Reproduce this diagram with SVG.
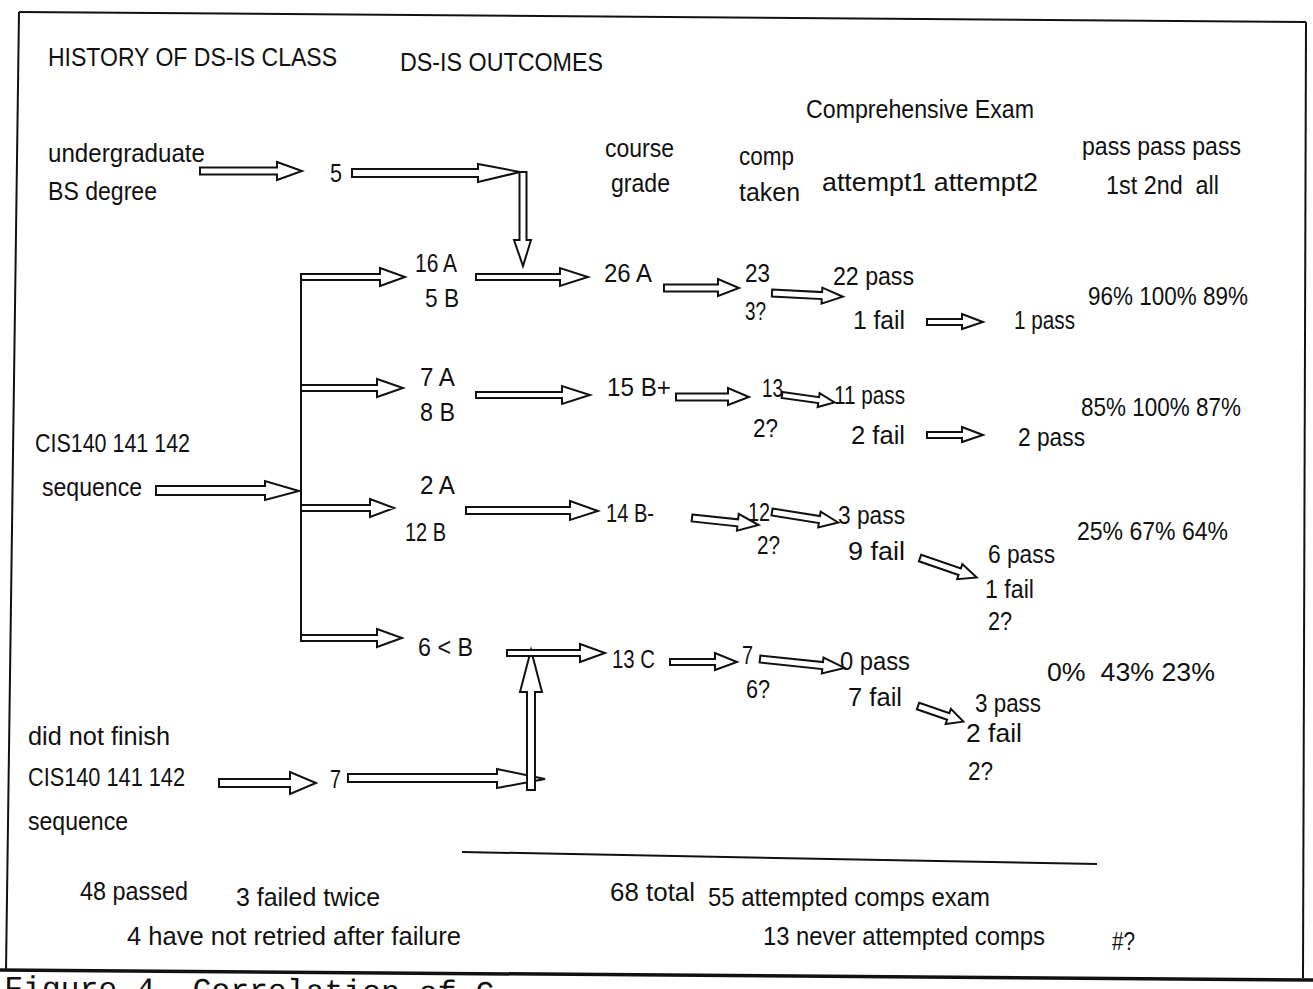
<svg xmlns="http://www.w3.org/2000/svg" width="1313" height="989" viewBox="0 0 1313 989">
<style>
  text { font-family: "Liberation Sans", Arial, sans-serif; font-size: 26px; fill: #111; }
  .arr { fill: #fff; stroke: #111; stroke-width: 2; stroke-linejoin: miter; }
  .ln { stroke: #111; stroke-width: 2; fill: none; }
  .cap { font-family: "Liberation Mono", "Courier New", monospace; font-size: 32px; }
</style>
<rect width="1313" height="989" fill="#fff"/>

<g id="frame">
  <line class="ln" x1="19" y1="12" x2="1306" y2="22"/>
  <line class="ln" x1="19" y1="12" x2="6" y2="971"/>
  <line class="ln" x1="1306" y1="22" x2="1303" y2="978"/>
  <line x1="0" y1="970" x2="1313" y2="980" stroke="#111" stroke-width="3.5"/>
  <line class="ln" x1="462" y1="852" x2="1097" y2="864"/>
</g>

<g id="headers">
  <text x="48" y="66" textLength="289" lengthAdjust="spacingAndGlyphs">HISTORY OF DS-IS CLASS</text>
  <text x="400" y="71" textLength="203" lengthAdjust="spacingAndGlyphs">DS-IS OUTCOMES</text>
  <text x="806" y="118" textLength="228" lengthAdjust="spacingAndGlyphs">Comprehensive Exam</text>
  <text x="605" y="157" textLength="69" lengthAdjust="spacingAndGlyphs">course</text>
  <text x="611" y="192" textLength="59" lengthAdjust="spacingAndGlyphs">grade</text>
  <text x="739" y="165" textLength="55" lengthAdjust="spacingAndGlyphs">comp</text>
  <text x="739" y="201" textLength="61" lengthAdjust="spacingAndGlyphs">taken</text>
  <text x="822" y="191" textLength="216" lengthAdjust="spacingAndGlyphs">attempt1 attempt2</text>
  <text x="1082" y="155" textLength="159" lengthAdjust="spacingAndGlyphs">pass pass pass</text>
  <text x="1106" y="194" textLength="113" lengthAdjust="spacingAndGlyphs" xml:space="preserve">1st 2nd  all</text>
</g>

<g id="sources">
  <g id="n-undergrad">
    <text x="48" y="162" textLength="157" lengthAdjust="spacingAndGlyphs">undergraduate</text>
    <text x="48" y="200" textLength="109" lengthAdjust="spacingAndGlyphs">BS degree</text>
  </g>
  <g id="n-five"><text x="330" y="182" textLength="12" lengthAdjust="spacingAndGlyphs">5</text></g>
  <g id="n-cis">
    <text x="35" y="452" textLength="155" lengthAdjust="spacingAndGlyphs">CIS140 141 142</text>
    <text x="42" y="496" textLength="100" lengthAdjust="spacingAndGlyphs">sequence</text>
  </g>
  <g id="n-dnf">
    <text x="28" y="745" textLength="142" lengthAdjust="spacingAndGlyphs">did not finish</text>
    <text x="28" y="786" textLength="157" lengthAdjust="spacingAndGlyphs">CIS140 141 142</text>
    <text x="28" y="830" textLength="100" lengthAdjust="spacingAndGlyphs">sequence</text>
  </g>
  <g id="n-seven"><text x="330" y="788" textLength="11" lengthAdjust="spacingAndGlyphs">7</text></g>
</g>

<g id="row-a">
  <g id="n-a1"><text x="415" y="272" textLength="42" lengthAdjust="spacingAndGlyphs">16 A</text><text x="425" y="307" textLength="34" lengthAdjust="spacingAndGlyphs">5 B</text></g>
  <g id="n-a2"><text x="604" y="282" textLength="48" lengthAdjust="spacingAndGlyphs">26 A</text></g>
  <g id="n-a3"><text x="745" y="282" textLength="25" lengthAdjust="spacingAndGlyphs">23</text><text x="745" y="320" textLength="21" lengthAdjust="spacingAndGlyphs">3?</text></g>
  <g id="n-a4"><text x="833" y="285" textLength="81" lengthAdjust="spacingAndGlyphs">22 pass</text><text x="853" y="329" textLength="52" lengthAdjust="spacingAndGlyphs">1 fail</text></g>
  <g id="n-a5"><text x="1014" y="329" textLength="61" lengthAdjust="spacingAndGlyphs">1 pass</text></g>
  <g id="n-a6"><text x="1088" y="305" textLength="160" lengthAdjust="spacingAndGlyphs">96% 100% 89%</text></g>
</g>

<g id="row-b">
  <g id="n-b1"><text x="420" y="386" textLength="35" lengthAdjust="spacingAndGlyphs">7 A</text><text x="420" y="421" textLength="35" lengthAdjust="spacingAndGlyphs">8 B</text></g>
  <g id="n-b2"><text x="607" y="396" textLength="64" lengthAdjust="spacingAndGlyphs">15 B+</text></g>
  <g id="n-b3"><text x="762" y="397" textLength="21" lengthAdjust="spacingAndGlyphs">13</text><text x="753" y="437" textLength="25" lengthAdjust="spacingAndGlyphs">2?</text></g>
  <g id="n-b4"><text x="834" y="404" textLength="71" lengthAdjust="spacingAndGlyphs">11 pass</text><text x="851" y="444" textLength="54" lengthAdjust="spacingAndGlyphs">2 fail</text></g>
  <g id="n-b5"><text x="1018" y="446" textLength="67" lengthAdjust="spacingAndGlyphs">2 pass</text></g>
  <g id="n-b6"><text x="1081" y="416" textLength="160" lengthAdjust="spacingAndGlyphs">85% 100% 87%</text></g>
</g>

<g id="row-c">
  <g id="n-c1"><text x="420" y="494" textLength="35" lengthAdjust="spacingAndGlyphs">2 A</text><text x="405" y="541" textLength="41" lengthAdjust="spacingAndGlyphs">12 B</text></g>
  <g id="n-c2"><text x="606" y="522" textLength="48" lengthAdjust="spacingAndGlyphs">14 B-</text></g>
  <g id="n-c3"><text x="748" y="521" textLength="22" lengthAdjust="spacingAndGlyphs">12</text><text x="757" y="554" textLength="23" lengthAdjust="spacingAndGlyphs">2?</text></g>
  <g id="n-c4"><text x="838" y="524" textLength="67" lengthAdjust="spacingAndGlyphs">3 pass</text><text x="848" y="560" textLength="57" lengthAdjust="spacingAndGlyphs">9 fail</text></g>
  <g id="n-c5"><text x="988" y="563" textLength="67" lengthAdjust="spacingAndGlyphs">6 pass</text><text x="985" y="598" textLength="49" lengthAdjust="spacingAndGlyphs">1 fail</text><text x="988" y="630" textLength="24" lengthAdjust="spacingAndGlyphs">2?</text></g>
  <g id="n-c6"><text x="1077" y="540" textLength="151" lengthAdjust="spacingAndGlyphs">25% 67% 64%</text></g>
</g>

<g id="row-d">
  <g id="n-d1"><text x="418" y="656" textLength="55" lengthAdjust="spacingAndGlyphs">6 &lt; B</text></g>
  <g id="n-d2"><text x="612" y="668" textLength="43" lengthAdjust="spacingAndGlyphs">13 C</text></g>
  <g id="n-d3"><text x="742" y="664" textLength="11" lengthAdjust="spacingAndGlyphs">7</text><text x="746" y="698" textLength="24" lengthAdjust="spacingAndGlyphs">6?</text></g>
  <g id="n-d4"><text x="840" y="670" textLength="70" lengthAdjust="spacingAndGlyphs">0 pass</text><text x="848" y="706" textLength="54" lengthAdjust="spacingAndGlyphs">7 fail</text></g>
  <g id="n-d5"><text x="975" y="712" textLength="66" lengthAdjust="spacingAndGlyphs">3 pass</text><text x="966" y="742" textLength="56" lengthAdjust="spacingAndGlyphs">2 fail</text><text x="968" y="780" textLength="25" lengthAdjust="spacingAndGlyphs">2?</text></g>
  <g id="n-d6"><text x="1047" y="681" textLength="168" lengthAdjust="spacingAndGlyphs" xml:space="preserve">0%  43% 23%</text></g>
</g>

<g id="totals">
  <text x="80" y="900" textLength="108" lengthAdjust="spacingAndGlyphs">48 passed</text>
  <text x="236" y="906" textLength="144" lengthAdjust="spacingAndGlyphs">3 failed twice</text>
  <text x="610" y="901" textLength="85" lengthAdjust="spacingAndGlyphs">68 total</text>
  <text x="708" y="906" textLength="282" lengthAdjust="spacingAndGlyphs">55 attempted comps exam</text>
  <text x="127" y="945" textLength="334" lengthAdjust="spacingAndGlyphs">4 have not retried after failure</text>
  <text x="763" y="945" textLength="282" lengthAdjust="spacingAndGlyphs">13 never attempted comps</text>
  <text x="1112" y="950" textLength="23" lengthAdjust="spacingAndGlyphs">#?</text>
</g>

<g id="connectors">
  <!-- sources -->
  <path class="arr" d="M200,167.5 H277 V162 L302,171 L277,180 V174.5 H200 Z"/>
  <path class="arr" d="M352,169 H478 V164 L520,172 L478,182 V177 H352 Z"/>
  <path class="arr" d="M519.5,172 V240 H514 L523,266 L531,240 H526.5 V172 Z"/>
  <line class="ln" x1="301" y1="276" x2="301" y2="636"/>
  <path class="arr" d="M156,486 H265 V481 L299,491 L265,500 V495 H156 Z"/>
  <path class="arr" d="M219,779 H290 V772 L316,783 L290,794 V787 H219 Z"/>
  <path class="arr" d="M348,774 H497 V769 L545,779 L497,788 V782 H348 Z"/>
  <path class="arr" d="M527,790 V692 H520 L531,650 L542,692 H535 V790 Z"/>
  <!-- branch -->
  <path class="arr" d="M301,274 H380 V268 L405,277 L380,286 V280 H301 Z"/>
  <path class="arr" d="M301,385 H377 V379 L403,388 L377,397 V391 H301 Z"/>
  <path class="arr" d="M301,505 H370 V499 L394,508 L370,517 V511 H301 Z"/>
  <path class="arr" d="M301,635 H377 V629 L402,638 L377,647 V641 H301 Z"/>
  <!-- to course grade -->
  <path class="arr" d="M476,274 H560 V268 L588,277 L560,286 V280 H476 Z"/>
  <path class="arr" d="M476,392 H562 V386 L590,395 L562,404 V398 H476 Z"/>
  <path class="arr" d="M466,507 H570 V501 L598,511 L570,520 V514 H466 Z"/>
  <path class="arr" d="M507,650 H580 V644 L605,653 L580,662 V656 H507 Z"/>
  <!-- to comp taken -->
  <path class="arr" d="M664,284.5 H718 V279 L739,288 L718,296 V291.5 H664 Z"/>
  <path class="arr" d="M676,393.5 H728 V388 L749,397 L728,405 V400.5 H676 Z"/>
  <path class="arr" transform="translate(692,518) rotate(6)" d="M0,-3.5 H46 V-9 L67,0 L46,8 V3.5 H0 Z"/>
  <path class="arr" d="M670,659 H715 V653 L737,662 L715,670 V665 H670 Z"/>
  <!-- to attempt1 -->
  <path class="arr" transform="translate(772,293) rotate(3)" d="M0,-3.5 H50 V-8 L71,0 L50,8 V3.5 H0 Z"/>
  <path class="arr" transform="translate(782,395) rotate(8)" d="M0,-3 H37 V-7 L53,0 L37,7 V3 H0 Z"/>
  <path class="arr" transform="translate(772,512) rotate(9)" d="M0,-3.5 H48 V-8 L67,0 L48,8 V3.5 H0 Z"/>
  <path class="arr" transform="translate(760,659) rotate(6)" d="M0,-3.5 H63 V-8 L85,0 L63,8 V3.5 H0 Z"/>
  <!-- to attempt2 -->
  <path class="arr" d="M927,319 H962 V314 L983,322 L962,329 V325 H927 Z"/>
  <path class="arr" d="M927,432 H962 V427 L983,435 L962,442 V438 H927 Z"/>
  <path class="arr" transform="translate(920,558) rotate(19)" d="M0,-3.5 H42 V-8 L60,0 L42,8 V3.5 H0 Z"/>
  <path class="arr" transform="translate(918,706) rotate(19)" d="M0,-3.5 H32 V-8 L48,0 L32,8 V3.5 H0 Z"/>
</g>

<text class="cap" x="4" y="998" transform="rotate(0.6 0 998)" textLength="490" lengthAdjust="spacingAndGlyphs">Figure 4. Correlation of C</text>
</svg>
